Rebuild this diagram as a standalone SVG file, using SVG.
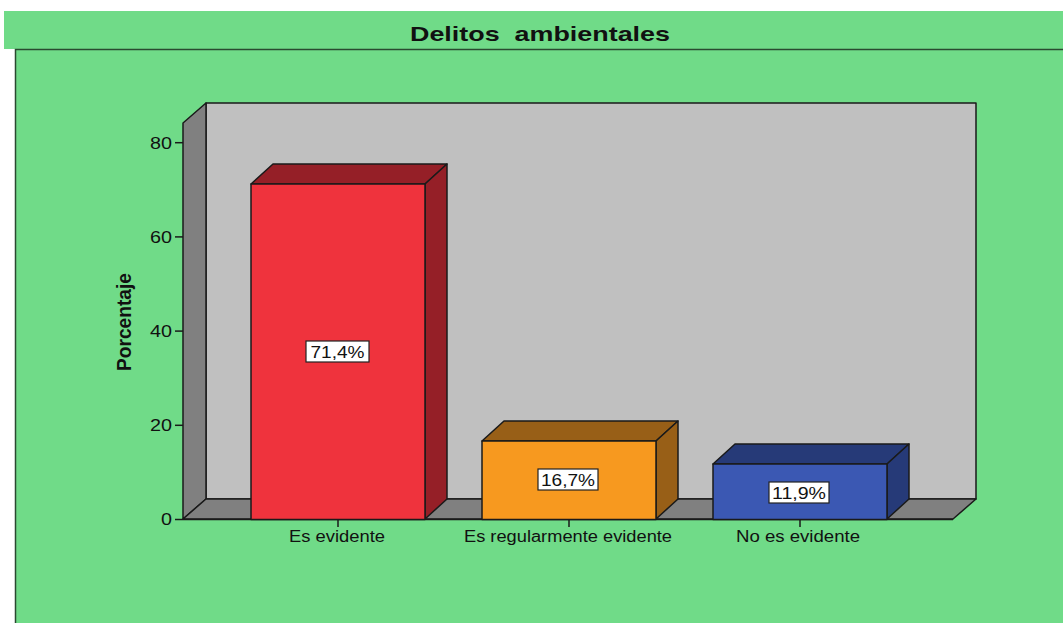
<svg xmlns="http://www.w3.org/2000/svg" width="1063" height="623" viewBox="0 0 1063 623">
<style>
text{font-family:"Liberation Sans",Arial,sans-serif;fill:#111}
.tick{font-size:16px;text-anchor:end}
.cat{font-size:16px;text-anchor:middle}
.val{font-size:16px;text-anchor:middle}
.edge{stroke:#1a1a1a;stroke-width:1.5;stroke-linejoin:round}
.box{fill:#fff;stroke:#222;stroke-width:1.2}
</style>
<rect x="0" y="0" width="1063" height="623" fill="#fff"/>
<rect x="4" y="11" width="1059" height="38" fill="#70DB88"/>
<text x="540" y="41" font-size="21" font-weight="bold" text-anchor="middle" textLength="260" lengthAdjust="spacingAndGlyphs" xml:space="preserve">Delitos  ambientales</text>
<rect x="15" y="49" width="1048" height="574" fill="#70DB88"/>
<path d="M15.5 623 V49.5 H1063" fill="none" stroke="#2a4a30" stroke-width="1.5"/>

<g id="frame">
<polygon class="edge" points="206,103 976,103 976,499 206,499" fill="#C0C0C0"/>
<polygon class="edge" points="183,123 206,103 206,499 183,519" fill="#808080"/>
<polygon class="edge" points="183,519 206,499 976,499 953,519" fill="#808080"/>
</g>

<g id="axis">
<line x1="183" y1="519.5" x2="953" y2="519.5" stroke="#1a1a1a" stroke-width="1.5"/>
<g stroke="#1a1a1a" stroke-width="1.5">
<line x1="175" y1="519.5" x2="183" y2="519.5"/>
<line x1="175" y1="425.3" x2="183" y2="425.3"/>
<line x1="175" y1="331.1" x2="183" y2="331.1"/>
<line x1="175" y1="236.9" x2="183" y2="236.9"/>
<line x1="175" y1="142.7" x2="183" y2="142.7"/>
<line x1="338" y1="519.5" x2="338" y2="527"/>
<line x1="569" y1="519.5" x2="569" y2="527"/>
<line x1="800" y1="519.5" x2="800" y2="527"/>
</g>
<text class="tick" x="172" y="525" textLength="11" lengthAdjust="spacingAndGlyphs">0</text>
<text class="tick" x="172" y="431" textLength="22" lengthAdjust="spacingAndGlyphs">20</text>
<text class="tick" x="172" y="337" textLength="22" lengthAdjust="spacingAndGlyphs">40</text>
<text class="tick" x="172" y="243" textLength="22" lengthAdjust="spacingAndGlyphs">60</text>
<text class="tick" x="172" y="149" textLength="22" lengthAdjust="spacingAndGlyphs">80</text>
<text x="0" y="0" font-size="20" font-weight="bold" text-anchor="middle" textLength="98" lengthAdjust="spacingAndGlyphs" transform="translate(131,322) rotate(-90)">Porcentaje</text>
</g>

<g id="bar-es-evidente">
<polygon class="edge" points="251,184 273,164 447,164 425,184" fill="#951F27"/>
<polygon class="edge" points="425,184 447,164 447,499 425,519" fill="#951F27"/>
<rect class="edge" x="251" y="184" width="174" height="335.5" fill="#EF333D"/>
<rect class="box" x="306" y="341" width="63" height="21"/>
<text class="val" x="337.5" y="357.5" textLength="54" lengthAdjust="spacingAndGlyphs">71,4%</text>
<text class="cat" x="337" y="542" textLength="96" lengthAdjust="spacingAndGlyphs">Es evidente</text>
</g>

<g id="bar-es-regularmente-evidente">
<polygon class="edge" points="482,441 504,421 678,421 656,441" fill="#985F17"/>
<polygon class="edge" points="656,441 678,421 678,499 656,519" fill="#985F17"/>
<rect class="edge" x="482" y="441" width="174" height="78.5" fill="#F7991F"/>
<rect class="box" x="538" y="469" width="60" height="21"/>
<text class="val" x="568" y="485.5" textLength="54" lengthAdjust="spacingAndGlyphs">16,7%</text>
<text class="cat" x="568" y="542" textLength="208" lengthAdjust="spacingAndGlyphs">Es regularmente evidente</text>
</g>

<g id="bar-no-es-evidente">
<polygon class="edge" points="713,464 735,444 909,444 887,464" fill="#263A78"/>
<polygon class="edge" points="887,464 909,444 909,499 887,519" fill="#263A78"/>
<rect class="edge" x="713" y="464" width="174" height="55.5" fill="#3B58B3"/>
<rect class="box" x="769" y="482" width="60" height="21"/>
<text class="val" x="799" y="498.5" textLength="54" lengthAdjust="spacingAndGlyphs">11,9%</text>
<text class="cat" x="798" y="542" textLength="124" lengthAdjust="spacingAndGlyphs">No es evidente</text>
</g>
</svg>
